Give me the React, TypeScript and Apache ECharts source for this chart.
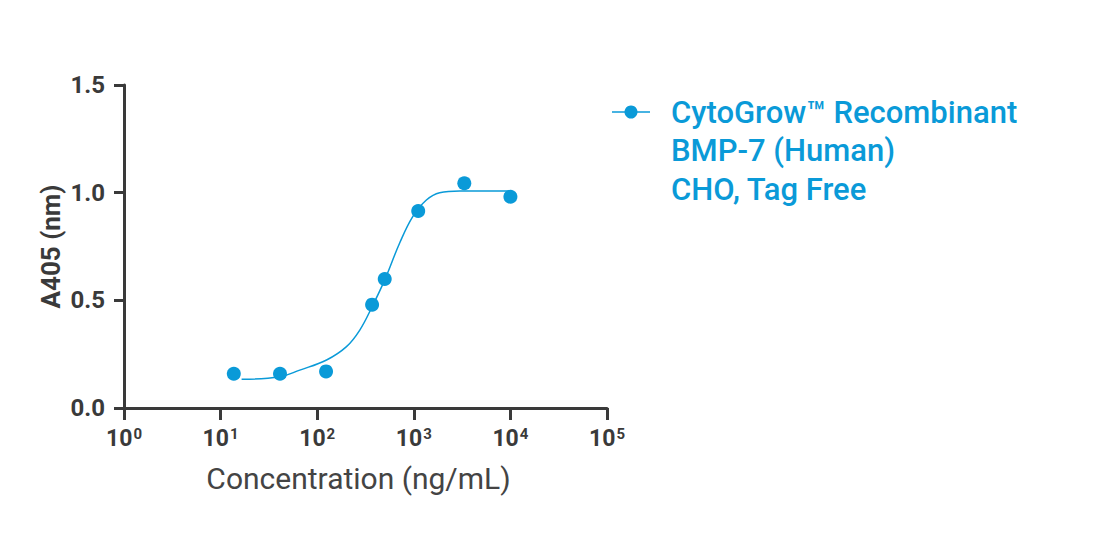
import { useRef, useEffect } from 'react';
import * as echarts from 'echarts';

const SERIES_NAME = 'CytoGrow™ Recombinant\nBMP-7 (Human)\nCHO, Tag Free';

// measured points (ng/mL, A405)
const pointConc = [13.7, 41.2, 123.5, 370, 500, 1111, 3333, 10000];
const pointA405 = [0.159, 0.159, 0.17, 0.48, 0.599, 0.915, 1.044, 0.981];

// fitted curve
const curveConc = [16.5, 41, 66, 125, 201, 276, 370, 500, 714, 975, 1350, 1853, 2985, 10000];
const curveA405 = [0.133, 0.145, 0.176, 0.223, 0.285, 0.362, 0.47, 0.595, 0.766, 0.889, 0.966, 1.0, 1.008, 1.008];

const yTicks = [0, 0.5, 1.0, 1.5];

const BLUE = '#0a9ad8';
const AXIS = '#3a3a3a';

export default function App() {
  const chartRef = useRef<HTMLDivElement>(null);

  useEffect(() => {
    let chart: echarts.ECharts | undefined;

    if (chartRef.current) {
      chart = echarts.init(chartRef.current, undefined, { renderer: 'svg' });

      chart.setOption({
        animation: false,
        textStyle: { fontFamily: 'Roboto' },
        grid: { left: 124, right: 497, top: 85, bottom: 126 },
        // legend drawn by hand: icon on the first line of a 3-line label
        graphic: [
          {
            type: 'line',
            shape: { x1: 612, y1: 112, x2: 650, y2: 112 },
            style: { stroke: BLUE, lineWidth: 1.5 },
          },
          {
            type: 'circle',
            shape: { cx: 631, cy: 112, r: 6.5 },
            style: { fill: BLUE },
          },
          {
            type: 'text',
            x: 671,
            y: 93,
            style: {
              text: SERIES_NAME,
              fill: BLUE,
              font: '500 31px Roboto',
              lineHeight: 38.5,
              verticalAlign: 'top',
            },
          },
        ],
        xAxis: {
          type: 'log',
          logBase: 10,
          min: 1,
          max: 100000,
          name: 'Concentration (ng/mL)',
          nameLocation: 'middle',
          nameGap: 55,
          nameTextStyle: {
            color: '#444',
            fontSize: 30,
            padding: [0, 14, 0, 0],
          },
          axisLine: { lineStyle: { color: AXIS, width: 3 } },
          axisTick: { length: 12, lineStyle: { color: AXIS, width: 3 } },
          splitLine: { show: false },
          axisLabel: {
            margin: 18,
            formatter: (v: number) => `{b|10}{s|${Math.round(Math.log10(v))}}`,
            rich: {
              b: { fontSize: 23, fontWeight: 'bold', color: AXIS, fontFamily: 'Roboto' },
              s: {
                fontSize: 15,
                fontWeight: 'bold',
                color: AXIS,
                fontFamily: 'Roboto',
                padding: [0, 0, 9, 1],
              },
            },
          },
        },
        yAxis: {
          type: 'value',
          min: yTicks[0],
          max: yTicks[yTicks.length - 1],
          interval: 0.5,
          name: 'A405 (nm)',
          nameLocation: 'middle',
          nameGap: 60,
          nameTextStyle: { color: AXIS, fontSize: 26, fontWeight: 'bold' },
          axisLine: { show: true, lineStyle: { color: AXIS, width: 3 } },
          axisTick: { show: true, length: 10, lineStyle: { color: AXIS, width: 3 } },
          splitLine: { show: false },
          axisLabel: {
            margin: 19,
            color: AXIS,
            fontSize: 24,
            fontWeight: 'bold',
            formatter: (v: number) => v.toFixed(1),
          },
        },
        series: [
          {
            name: SERIES_NAME,
            type: 'line',
            smooth: 0.4,
            showSymbol: false,
            lineStyle: { color: BLUE, width: 1.5 },
            itemStyle: { color: BLUE },
            data: curveConc.map((c, i) => [c, curveA405[i]]),
            z: 2,
          },
          {
            name: SERIES_NAME,
            type: 'scatter',
            symbol: 'circle',
            symbolSize: 14,
            itemStyle: { color: BLUE, opacity: 1 },
            data: pointConc.map((c, i) => [c, pointA405[i]]),
            z: 3,
          },
        ],
      });
    }

    const handleResize = () => {
      chart?.resize();
    };
    window.addEventListener('resize', handleResize);

    return () => {
      chart?.dispose();
      window.removeEventListener('resize', handleResize);
    };
  }, []);

  return (
    <div
      ref={chartRef}
      style={{ position: 'absolute', left: 0, top: 0, width: 1104, height: 534, background: '#fff' }}
    />
  );
}
